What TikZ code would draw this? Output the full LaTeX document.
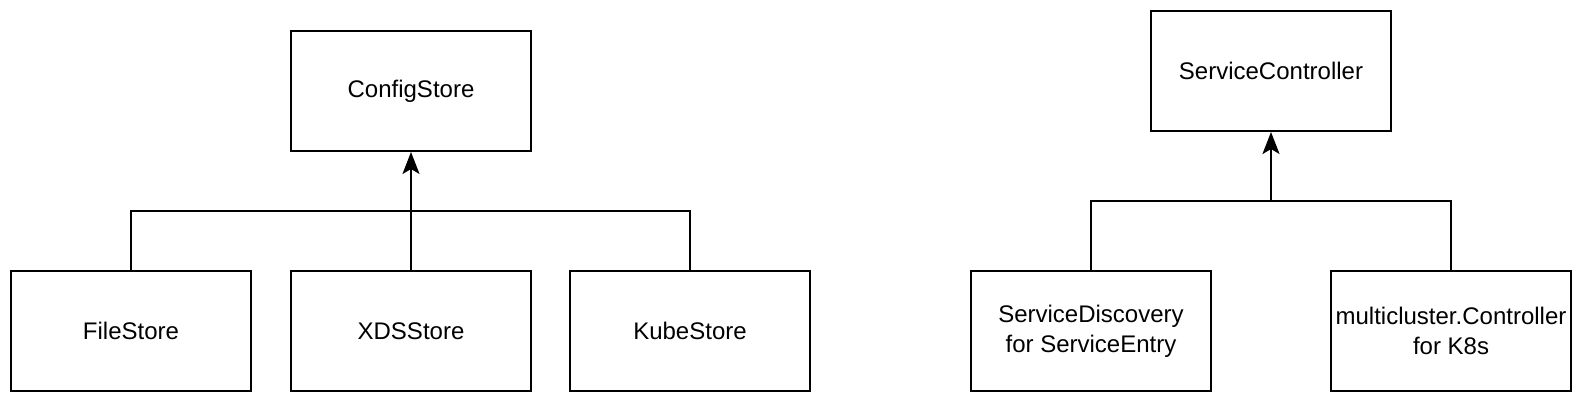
\documentclass[tikz,border=0pt]{standalone}
\usepackage{fontspec}
\setmainfont{Liberation Sans}
\usetikzlibrary{arrows.meta}
\begin{document}
\begin{tikzpicture}[x=1pt,y=-1pt,
  box/.style={draw=black, line width=2pt, minimum width=240pt, minimum height=120pt, inner sep=0pt, align=center, font=\fontsize{24}{30}\selectfont, fill=white},
  conn/.style={draw=black, line width=2pt},
  arr/.style={conn, -{Stealth[length=22pt,width=17pt,inset=5pt]}}]
\useasboundingbox (0,0) rectangle (1582,402);
% left group
\node[box] (cs) at (411,91) {ConfigStore};
\node[box] (fs) at (131,331) {FileStore};
\node[box] (xs) at (411,331) {XDSStore};
\node[box] (ks) at (690,331) {KubeStore};
\coordinate (busL) at (411,211);
\draw[conn] (fs.north) |- (busL) -| (ks.north);
\draw[arr] (xs.north) -- (cs.south);
% right group
\node[box] (sc) at (1271,71) {ServiceController};
\node[box] (sd) at (1091,331) {ServiceDiscovery\\for ServiceEntry};
\node[box] (mc) at (1451,331) {multicluster.Controller\\for K8s};
\coordinate (busR) at (1271,201);
\draw[conn] (sd.north) |- (busR) -| (mc.north);
\draw[arr] (busR) -- (sc.south);
\end{tikzpicture}
\end{document}
